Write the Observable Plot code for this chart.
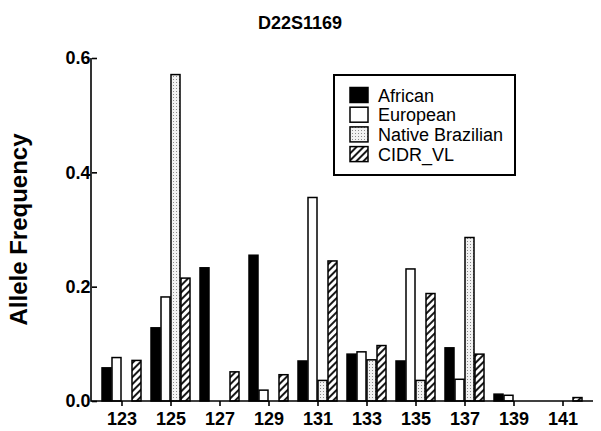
<!DOCTYPE html>
<html>
<head>
<meta charset="utf-8">
<script src="https://cdn.jsdelivr.net/npm/d3@7"></script>
<script src="https://cdn.jsdelivr.net/npm/@observablehq/plot@0.6"></script>
<style>
  body { margin: 0; background: #fff; }
  #chart svg { display: block; }
  #chart g[aria-label$="tick"] path { stroke-width: 1.6; }
</style>
</head>
<body>
<div id="chart"></div>
<script>
const title = "D22S1169";
const yLabel = "Allele Frequency";
const alleles = ["123","125","127","129","131","133","135","137","139","141"];
const populations = ["African","European","Native Brazilian","CIDR_VL"];
const african  = [0.058,0.128,0.233,0.255,0.070,0.082,0.070,0.093,0.012,0];
const european = [0.076,0.182,0,    0.019,0.356,0.086,0.231,0.038,0.010,0];
const native   = [0,    0.571,0,    0,    0.036,0.072,0.036,0.286,0,    0];
const cidr     = [0.071,0.215,0.051,0.046,0.245,0.097,0.188,0.082,0,    0.006];
const yTicks = [0, 0.2, 0.4, 0.6];

const series = [african, european, native, cidr];
const data = [];
alleles.forEach((a, i) => populations.forEach((p, j) => {
  if (series[j][i] > 0) data.push({allele: a, pop: p, freq: series[j][i]});
}));

const fills = ["black", "white", "url(#dots)", "url(#hatch)"];

const plot = Plot.plot({
  width: 601,
  height: 431,
  marginLeft: 91,
  marginRight: 8,
  marginTop: 58,
  marginBottom: 30,
  style: {fontFamily: "'Liberation Sans', Arial, sans-serif", fontSize: "18px", fontWeight: "bold", color: "black", background: "white"},
  fx: {domain: alleles, label: null, axis: "bottom", tickSize: 5, tickPadding: 6, paddingInner: 0, paddingOuter: 0.07},
  x: {domain: populations, axis: null, paddingInner: 0.14, paddingOuter: 0.43},
  y: {domain: [0, 0.6], ticks: yTicks, tickFormat: ".1f", tickSize: 5, tickPadding: 2, label: null},
  color: {domain: populations, range: fills, legend: false},
  marks: [
    Plot.barY(data, {fx: "allele", x: "pop", y: "freq", fill: "pop", stroke: "black", strokeWidth: 1.5})
  ]
});

const svg = d3.select(plot);
const defs = svg.insert("defs", ":first-child");
const dots = defs.append("pattern").attr("id", "dots").attr("patternUnits", "userSpaceOnUse")
  .attr("width", 3).attr("height", 3);
dots.append("rect").attr("width", 3).attr("height", 3).attr("fill", "#f2f2f2");
dots.append("rect").attr("x", 1).attr("y", 1).attr("width", 1).attr("height", 1).attr("fill", "#8a8a8a");
const hatch = defs.append("pattern").attr("id", "hatch").attr("patternUnits", "userSpaceOnUse")
  .attr("width", 5).attr("height", 5).attr("patternTransform", "rotate(45)");
hatch.append("rect").attr("width", 5).attr("height", 5).attr("fill", "white");
hatch.append("line").attr("x1", 1).attr("y1", 0).attr("x2", 1).attr("y2", 5)
  .attr("stroke", "black").attr("stroke-width", 1.8);

const ys = plot.scale("y");
const y0 = ys.apply(0), y1 = ys.apply(0.6);
const left = 91, right = 593;
// axis lines
svg.append("line").attr("x1", left).attr("x2", left).attr("y1", y0 + 0.8).attr("y2", y1)
  .attr("stroke", "black").attr("stroke-width", 1.6);
svg.append("line").attr("x1", left).attr("x2", right).attr("y1", y0).attr("y2", y0)
  .attr("stroke", "black").attr("stroke-width", 1.6);

// title
svg.append("text").attr("x", 300).attr("y", 29).attr("text-anchor", "middle")
  .attr("font-size", 18).attr("font-weight", "bold").text(title);
// y label
svg.append("text").attr("transform", `translate(27,${(y0 + y1) / 2}) rotate(-90)`)
  .attr("text-anchor", "middle").attr("font-size", 24).attr("font-weight", "bold").text(yLabel);

// legend
const lg = svg.append("g").attr("text-anchor", "start");
lg.append("rect").attr("x", 334).attr("y", 75).attr("width", 181).attr("height", 100)
  .attr("fill", "white").attr("stroke", "black").attr("stroke-width", 2);
populations.forEach((p, i) => {
  const cy = 95 + i * 19.7;
  lg.append("rect").attr("x", 350).attr("y", cy - 7.5).attr("width", 18).attr("height", 15)
    .attr("fill", fills[i]).attr("stroke", "black").attr("stroke-width", 1.5);
  lg.append("text").attr("x", 378).attr("y", cy + 6.5).attr("font-size", 18)
    .attr("text-anchor", "start").attr("font-weight", "normal").text(p);
});

document.getElementById("chart").appendChild(plot);
</script>
</body>
</html>
